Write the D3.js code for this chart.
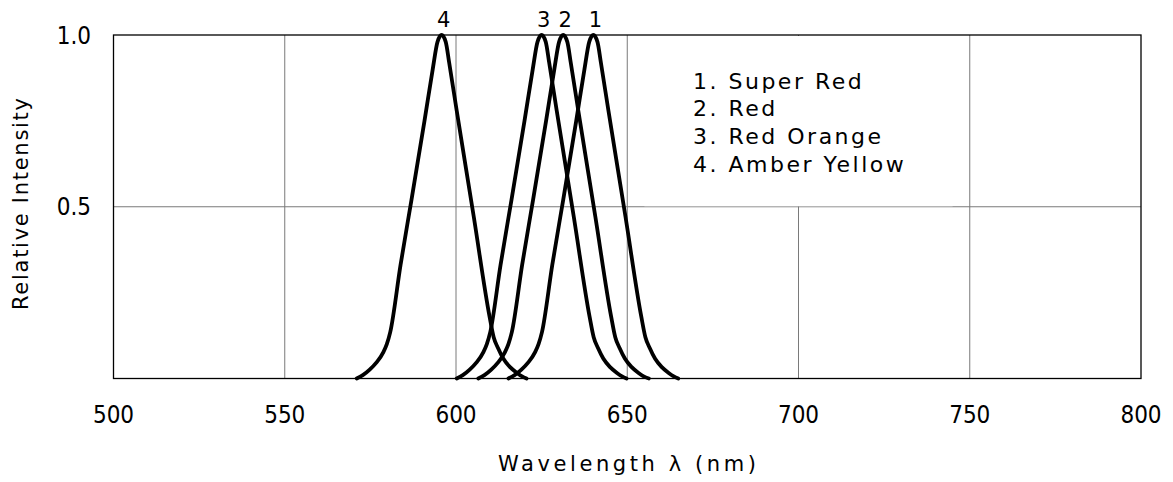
<!DOCTYPE html>
<html lang="en">
<head>
  <meta charset="UTF-8">
  <title>Relative Intensity vs Wavelength</title>
  <style>
    body { margin: 0; background: #fff; }
    .tick-label { font-family: "Liberation Sans Narrow", "DejaVu Sans Condensed", sans-serif; font-size: 24px; fill: #000; }
    .title { font-family: "DejaVu Sans", sans-serif; font-size: 21px; fill: #000; }
    .legend text { font-family: "DejaVu Sans", sans-serif; font-size: 22px; letter-spacing: 2.5px; fill: #000; }
    .peak { font-family: "DejaVu Sans", sans-serif; font-size: 21px; fill: #000; }
    .grid { stroke: #7a7a7a; stroke-width: 1; }
    .curve { fill: none; stroke: #000; stroke-width: 3.8; stroke-linejoin: round; stroke-linecap: round; }
  </style>
</head>
<body>
  <svg width="1173" height="482"></svg>
  <script src="https://d3js.org/d3.v7.min.js"></script>
  <script>
    const xTicks = [500, 550, 600, 650, 700, 750, 800];
    const yTicks = [0.5, 1.0];
    const legendItems = ["1. Super Red", "2. Red", "3. Red Orange", "4. Amber Yellow"];

    // spectra: [wavelength nm, relative intensity]
    const superRed = [[615.3,0],[617.1,0.01],[619.1,0.026],[621.1,0.047],[623.1,0.077],[624.1,0.10],[625.1,0.135],[628.1,0.33],[631.3,0.52],[635.1,0.75],[637.5,0.90],[638.9,0.98],[640.1,1],[641.3,0.98],[642.3,0.92],[644.5,0.78],[649.5,0.47],[654.1,0.18],[655.3,0.12],[656.6,0.088],[658.1,0.058],[660.1,0.033],[662.1,0.016],[663.6,0.006],[664.9,0]];
    const red = [[606.5,0],[608.3,0.01],[610.3,0.026],[612.3,0.047],[614.3,0.077],[615.3,0.10],[616.3,0.135],[619.3,0.33],[622.5,0.52],[626.3,0.75],[628.7,0.90],[630.1,0.98],[631.3,1],[632.5,0.98],[633.5,0.92],[635.7,0.78],[640.7,0.47],[645.3,0.18],[646.5,0.12],[647.8,0.088],[649.3,0.058],[651.3,0.033],[653.3,0.016],[654.8,0.006],[656.3,0]];
    const redOrange = [[600.2,0],[602.0,0.01],[604.0,0.026],[606.0,0.047],[608.0,0.077],[609.0,0.10],[610.0,0.135],[613.0,0.33],[616.2,0.52],[620.0,0.75],[622.4,0.90],[623.8,0.98],[625.0,1],[626.2,0.98],[627.2,0.92],[629.4,0.78],[634.4,0.47],[639.0,0.18],[640.2,0.12],[641.5,0.088],[643.0,0.058],[645.0,0.033],[647.0,0.016],[648.5,0.006],[649.8,0]];
    const amberYellow = [[571.0,0],[572.8,0.01],[574.8,0.026],[576.8,0.047],[578.8,0.077],[579.8,0.10],[580.8,0.135],[583.8,0.33],[587.0,0.52],[590.8,0.75],[593.2,0.90],[594.6,0.98],[595.8,1],[597.0,0.98],[598.0,0.92],[600.2,0.78],[605.2,0.47],[609.8,0.18],[611.0,0.12],[612.3,0.088],[613.8,0.058],[615.8,0.033],[617.8,0.016],[619.3,0.006],[620.6,0]];
    const series = [
      { label: "1", values: superRed },
      { label: "2", values: red },
      { label: "3", values: redOrange },
      { label: "4", values: amberYellow }
    ];

    const svg = d3.select("svg");
    const x = d3.scaleLinear().domain([500, 800]).range([113.5, 1141]);
    const y = d3.scaleLinear().domain([0, 1]).range([378.5, 35]);

    // grid
    const grid = svg.append("g");
    grid.selectAll("line.v").data(xTicks.slice(1, -1)).enter().append("line")
      .attr("class", "grid")
      .attr("x1", d => x(d)).attr("x2", d => x(d))
      .attr("y1", y(0)).attr("y2", y(1));
    grid.append("line").attr("class", "grid")
      .attr("x1", x(500)).attr("x2", x(800))
      .attr("y1", y(0.5)).attr("y2", y(0.5));

    // legend sits on a white patch that hides the grid behind it
    const legend = svg.append("g").attr("class", "legend");
    legend.append("rect")
      .attr("x", x(655)).attr("y", y(1) + 1)
      .attr("width", x(745) - x(655)).attr("height", y(0.5) - y(1) - 1.5)
      .attr("fill", "#fff");
    legend.selectAll("text").data(legendItems).enter().append("text")
      .attr("x", 693).attr("y", (d, i) => 88.5 + i * 27.8)
      .text(d => d);

    // curves
    const line = d3.line().x(d => x(d[0])).y(d => y(d[1])).curve(d3.curveMonotoneX);
    svg.selectAll("path.curve").data(series).enter().append("path")
      .attr("class", "curve")
      .attr("d", d => line(d.values));

    // peak numbers
    svg.selectAll("text.peak").data(series).enter().append("text")
      .attr("class", "peak")
      .attr("text-anchor", "middle")
      .attr("x", d => x(d3.greatest(d.values, v => v[1])[0]) + 2)
      .attr("y", 26.5)
      .text(d => d.label);

    // frame
    svg.append("rect")
      .attr("x", x(500)).attr("y", y(1))
      .attr("width", x(800) - x(500)).attr("height", y(0) - y(1))
      .attr("fill", "none").attr("stroke", "#000").attr("stroke-width", 1.3);

    // tick labels
    svg.selectAll("text.xt").data(xTicks).enter().append("text")
      .attr("class", "tick-label")
      .attr("text-anchor", "middle")
      .attr("x", d => x(d)).attr("y", 423)
      .text(d => d);
    svg.selectAll("text.yt").data(yTicks).enter().append("text")
      .attr("class", "tick-label")
      .attr("text-anchor", "end")
      .attr("x", 91).attr("y", d => y(d) + 8.5)
      .text(d => d.toFixed(1));

    // axis titles
    svg.append("text").attr("class", "title")
      .attr("text-anchor", "middle")
      .attr("x", 627).attr("y", 471)
      .attr("textLength", 258).attr("lengthAdjust", "spacing")
      .text("Wavelength λ (nm)");
    svg.append("text").attr("class", "title")
      .attr("text-anchor", "middle")
      .attr("transform", "translate(27.5,204) rotate(-90)")
      .attr("textLength", 212).attr("lengthAdjust", "spacing")
      .text("Relative Intensity");
  </script>
</body>
</html>
